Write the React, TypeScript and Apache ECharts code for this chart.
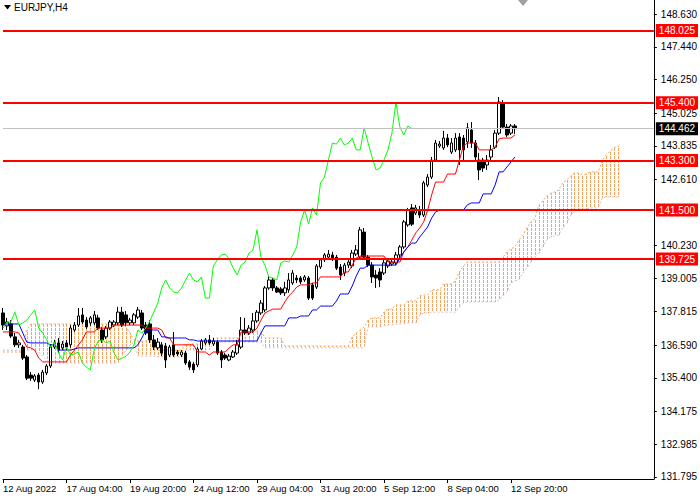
import React, { useEffect, useRef } from "react";
import * as echarts from "echarts";

const symbolTitle = "EURJPY,H4";
const dateLabels = [
  "12 Aug 2022", "17 Aug 04:00", "19 Aug 20:00", "24 Aug 12:00", "29 Aug 04:00",
  "31 Aug 20:00", "5 Sep 12:00", "8 Sep 04:00", "12 Sep 20:00",
];
const yTicks = [148.63, 147.44, 146.25, 145.025, 143.835, 142.61, 140.23, 139.005, 137.815, 136.59, 135.4, 134.175, 132.985, 131.795];
const levels = [148.025, 145.4, 143.3, 141.5, 139.725];
const lastPrice = 144.462;
const yMin = 131.722;
const yMax = 149.14;
const totalSlots = 165;
const labelStep = 16;
const chikouShift = 26;

// [open, close, low, high]
const ohlc = [
  [137.76,137.32,137.14,137.94],[137.29,137.43,137.14,137.58],[137.36,136.92,136.85,137.50],[136.89,136.60,136.52,137.03],
  [136.60,136.67,136.49,136.78],[136.52,136.12,136.05,136.60],[136.16,135.39,135.32,136.23],[135.50,135.39,135.29,135.61],
  [135.32,135.47,135.25,135.54],[135.50,135.25,134.99,135.58],[135.25,135.61,135.18,135.69],[135.58,135.83,135.50,135.90],
  [135.83,136.52,135.76,136.63],[136.52,136.67,136.45,136.78],[136.67,136.41,136.30,136.85],[136.49,136.63,136.41,136.74],
  [136.67,136.52,136.41,136.78],[136.60,137.21,136.49,137.32],[137.14,137.32,137.07,137.43],[137.32,137.65,137.25,137.94],
  [137.69,137.43,137.36,137.94],[137.50,137.25,137.18,137.61],[137.40,137.58,137.29,137.65],[137.40,137.69,137.32,137.83],
  [137.58,137.21,137.14,137.69],[137.14,136.78,136.67,137.25],[136.89,137.21,136.81,137.29],[137.21,137.43,137.14,137.50],
  [137.32,137.43,137.25,137.50],[137.40,137.79,137.32,137.98],[137.79,137.32,137.25,137.98],[137.69,137.40,137.29,137.83],
  [137.40,137.50,137.32,137.58],[137.40,137.69,137.32,137.76],[137.61,137.87,137.54,137.98],[137.76,137.21,137.14,137.87],
  [137.32,137.03,136.96,137.43],[137.36,136.78,136.67,137.50],[136.78,136.52,136.41,136.96],[136.49,136.70,136.41,136.85],
  [136.60,136.30,136.19,136.70],[136.56,136.05,135.76,136.67],[136.23,136.52,136.16,136.60],[136.60,136.23,136.16,137.07],
  [136.34,136.27,136.19,136.41],[136.23,136.34,136.16,136.41],[136.30,135.94,135.87,136.38],[135.98,135.79,135.69,136.05],
  [135.90,135.69,135.58,135.98],[135.87,136.45,135.79,136.52],[136.45,136.74,136.41,136.81],[136.67,136.78,136.60,136.85],
  [136.78,136.67,136.60,136.96],[136.63,136.74,136.56,136.85],[136.70,136.30,136.23,136.78],[136.34,136.05,135.76,136.41],
  [136.23,136.12,136.05,136.30],[136.05,136.19,136.01,136.27],[136.16,136.34,136.12,136.41],[136.30,136.60,136.23,136.78],
  [136.52,137.14,136.45,137.61],[137.14,137.03,136.96,137.58],[137.03,137.21,136.96,137.32],[137.14,137.47,137.03,137.76],
  [137.47,137.79,137.40,137.87],[137.76,138.12,137.69,138.23],[137.87,138.67,137.79,138.74],[138.67,138.96,138.60,139.10],
  [138.96,138.67,138.56,139.03],[138.67,138.52,138.49,138.74],[138.63,138.49,138.41,138.70],[138.49,138.67,138.38,138.89],
  [138.60,138.96,138.49,139.21],[138.85,139.21,138.78,139.32],[139.03,138.96,138.85,139.14],[139.03,138.89,138.81,139.10],
  [138.96,139.07,138.89,139.14],[139.03,138.30,138.23,139.10],[138.78,138.30,138.23,138.85],[138.70,139.47,138.63,139.54],
  [139.43,139.69,139.36,139.76],[139.69,139.87,139.61,139.94],[139.79,139.90,139.72,140.05],[139.87,139.72,139.65,139.98],
  [139.79,139.39,139.32,139.87],[139.43,139.14,138.96,139.54],[139.21,139.50,139.10,139.58],[139.50,139.61,139.39,139.69],
  [139.47,139.94,139.39,140.05],[139.90,140.05,139.83,140.23],[139.79,140.78,139.72,140.89],[140.70,139.79,139.72,140.85],
  [139.79,139.50,139.43,139.87],[139.50,139.07,138.85,139.61],[139.14,139.03,138.67,139.32],[139.25,138.96,138.70,139.39],
  [139.21,139.58,139.14,139.69],[139.47,139.65,139.39,139.72],[139.54,139.61,139.47,139.72],[139.58,139.87,139.50,139.98],
  [139.87,140.16,139.76,140.23],[140.16,141.07,140.09,141.14],[140.96,141.50,140.89,141.58],[141.58,140.99,140.92,141.72],
  [141.39,141.58,141.32,141.69],[141.50,141.32,141.21,141.65],[141.32,142.49,141.25,142.56],[142.41,142.70,142.34,142.81],
  [142.70,143.32,142.63,143.43],[143.32,143.94,143.25,144.05],[143.83,143.90,143.76,144.01],[143.76,144.12,143.69,144.38],
  [144.12,143.87,143.79,144.27],[143.61,143.94,143.54,144.12],[143.69,144.12,143.61,144.30],[144.16,143.69,143.14,144.30],
  [144.12,143.69,143.32,144.23],[143.98,144.49,143.76,144.67],[144.41,143.94,143.76,144.70],[143.94,143.43,143.32,144.05],
  [143.32,142.96,142.59,143.58],[143.32,143.03,142.89,143.40],[143.14,143.32,142.96,143.50],[143.43,143.69,143.32,143.87],
  [143.79,144.30,143.72,144.41],[144.30,145.43,144.23,145.61],[145.39,144.52,144.45,145.50],[144.52,144.23,144.16,144.63],
  [144.30,144.56,144.23,144.63],[144.56,144.462,144.27,144.63],
];

const tenkan = [
  137.07,137.07,137.07,137.07,137.03,136.78,136.52,136.49,136.41,136.12,
  135.98,135.98,135.98,135.98,135.98,135.98,135.98,136.23,136.41,136.60,
  136.78,137.07,137.07,137.07,137.21,137.21,137.21,137.21,137.32,137.32,
  137.32,137.32,137.32,137.32,137.32,137.32,137.21,137.21,137.21,137.21,
  137.14,136.85,136.85,136.60,136.60,136.60,136.60,136.60,136.60,136.34,
  136.34,136.34,136.23,136.34,136.34,136.34,136.34,136.49,136.60,136.60,
  137.07,137.07,137.07,137.07,137.21,137.50,137.76,137.83,137.90,137.90,
  137.90,138.16,138.38,138.52,138.70,138.78,138.78,138.78,138.85,138.85,
  139.07,139.07,139.07,139.07,139.07,139.07,139.25,139.25,139.50,139.76,
  139.83,139.83,139.83,139.83,139.83,139.83,139.83,139.61,139.61,139.61,
  139.61,139.98,140.16,140.41,140.67,140.85,141.07,141.50,142.05,142.52,
  142.52,142.52,142.81,142.81,142.81,143.32,143.83,143.94,143.94,143.94,
  143.69,143.69,143.69,143.69,143.79,144.09,144.12,144.12,144.12,144.23,
];

const kijun = [
  137.36,137.36,137.36,137.36,137.36,137.03,136.70,136.67,136.67,136.67,
  136.67,136.67,136.60,136.60,136.41,136.41,136.41,136.41,136.45,136.49,
  136.49,136.49,136.49,136.49,136.49,136.49,136.49,136.49,136.49,136.49,
  136.49,136.49,136.49,136.49,136.60,136.85,137.14,137.14,137.14,137.14,
  136.89,136.89,136.85,136.85,136.85,136.85,136.85,136.78,136.78,136.74,
  136.74,136.74,136.74,136.74,136.74,136.74,136.74,136.74,136.74,136.74,
  136.74,136.74,136.74,136.74,136.74,137.03,137.29,137.29,137.29,137.29,
  137.29,137.29,137.58,137.58,137.58,137.65,137.65,137.65,137.87,137.87,
  138.01,138.01,138.01,138.01,138.19,138.45,138.45,138.45,138.74,139.10,
  139.39,139.39,139.50,139.50,139.50,139.50,139.50,139.50,139.50,139.50,
  139.76,139.98,140.16,140.30,140.30,140.52,140.70,140.89,141.21,141.43,
  141.50,141.50,141.50,141.50,141.50,141.50,141.50,141.69,141.76,141.76,
  141.76,142.09,142.09,142.09,142.41,142.89,142.89,143.07,143.25,143.43,
];

const spanA = [
  136.34,136.34,136.34,136.34,136.34,136.34,137.14,137.36,137.36,137.36,
  137.36,137.36,137.36,137.36,137.36,137.36,137.36,137.36,137.36,137.36,
  137.36,137.36,137.36,137.36,137.36,137.36,137.36,137.36,137.36,137.36,
  137.36,137.25,137.03,136.78,136.74,136.74,136.74,136.74,136.74,136.41,
  136.41,136.41,136.41,136.41,136.41,136.41,136.63,136.63,136.63,136.63,
  136.63,136.63,136.63,136.85,136.85,136.85,136.85,136.85,136.85,136.85,
  136.85,136.85,137.10,137.10,137.10,137.10,136.85,136.85,136.85,136.85,
  136.85,136.56,136.56,136.56,136.56,136.56,136.56,136.56,136.56,136.56,
  136.56,136.56,136.56,136.56,136.56,136.56,136.56,136.56,136.89,137.03,
  137.14,137.25,137.50,137.58,137.58,137.58,137.79,137.90,137.90,138.05,
  138.05,138.05,138.20,138.20,138.20,138.38,138.41,138.41,138.60,138.60,
  138.60,138.81,138.81,138.81,138.93,139.25,139.47,139.61,139.61,139.61,
  139.61,139.61,139.61,139.61,139.61,139.61,139.79,139.98,140.09,140.16,
  140.41,140.59,140.85,141.07,141.18,141.69,141.83,142.01,142.12,142.16,
  142.23,142.49,142.59,142.74,142.85,142.85,142.78,142.81,142.89,142.89,
  142.89,143.32,143.50,143.65,143.76,143.83,
];

const spanB = [
  136.41,136.41,136.41,136.41,136.41,136.41,136.41,136.41,136.41,136.34,
  136.19,136.05,135.94,135.94,135.94,135.94,135.94,135.94,135.94,135.94,
  135.94,135.94,135.94,135.94,135.94,135.94,135.94,135.94,135.94,135.94,
  136.19,136.41,136.60,136.70,136.19,136.19,136.19,136.19,136.19,136.16,
  136.16,136.16,136.16,136.16,136.16,136.16,136.41,136.41,136.41,136.41,
  136.41,136.41,136.41,136.70,136.70,136.70,136.70,136.70,136.70,136.70,
  136.70,136.70,136.70,136.70,136.70,136.70,136.49,136.49,136.49,136.49,
  136.49,136.49,136.49,136.49,136.49,136.49,136.49,136.49,136.49,136.49,
  136.49,136.49,136.49,136.49,136.49,136.49,136.49,136.49,136.49,136.49,
  136.49,136.49,137.25,137.25,137.25,137.25,137.29,137.32,137.32,137.36,
  137.36,137.36,137.40,137.40,137.40,137.69,137.76,137.76,137.79,137.79,
  137.79,137.79,137.79,137.79,137.79,137.98,138.12,138.16,138.16,138.16,
  138.16,138.16,138.16,138.16,138.16,138.23,138.38,138.52,138.85,138.93,
  138.96,139.21,139.39,139.61,139.79,139.94,140.16,140.41,140.52,140.56,
  140.59,140.85,140.99,141.32,141.43,141.54,141.54,141.54,141.58,141.58,
  141.58,141.94,141.98,141.98,141.98,141.98,
];

const FONT = "Liberation Sans, Arial, sans-serif";
const KUMO_UP = "rgb(244,164,96)";
const KUMO_DOWN = "rgb(216,191,216)";

export default function App() {
  const ref = useRef<HTMLDivElement>(null);

  useEffect(() => {
    if (!ref.current) return;
    const chart = echarts.init(ref.current, null, { renderer: "svg" });
    const categories = Array.from({ length: totalSlots }, (_, i) => String(i));
    const chikou = categories.map((_, i) =>
      i + chikouShift < ohlc.length ? ohlc[i + chikouShift][1] : null
    );
    const cloud = spanA.map((a, i) => [i, a, spanB[i]]);
    const isLabelIdx = (idx: number) => idx % labelStep === 0 && idx / labelStep < dateLabels.length;

    chart.setOption({
      animation: false,
      backgroundColor: "#ffffff",
      grid: { left: 0, right: 45, top: 0, bottom: 21, containLabel: false },
      xAxis: {
        type: "category",
        data: categories,
        boundaryGap: false,
        axisLine: { show: true, lineStyle: { color: "#000", width: 1 } },
        axisTick: { show: true, interval: (idx: number) => isLabelIdx(idx), length: 4, lineStyle: { color: "#000" } },
        axisLabel: {
          show: true,
          interval: (idx: number) => isLabelIdx(idx),
          formatter: (_v: string, idx: number) => dateLabels[idx / labelStep] ?? "",
          align: "left",
          margin: 4,
          color: "#000",
          fontSize: 9.5,
          fontFamily: FONT,
        },
        splitLine: { show: false },
      },
      yAxis: {
        type: "value",
        position: "right",
        min: yMin,
        max: yMax,
        scale: true,
        axisLine: { show: true, lineStyle: { color: "#000", width: 1 } },
        axisTick: { show: true, customValues: yTicks, length: 3, lineStyle: { color: "#000" } },
        axisLabel: {
          show: true,
          customValues: yTicks,
          formatter: (v: number) => v.toFixed(3),
          margin: 7,
          color: "#000",
          fontSize: 10,
          fontFamily: FONT,
        },
        splitLine: { show: false },
      },
      series: [
        {
          type: "custom",
          name: "kumo",
          z: 1,
          silent: true,
          color: KUMO_UP,
          itemStyle: { color: KUMO_UP },
          progressive: 0,
          encode: { x: 0, y: [1, 2] },
          data: cloud,
          renderItem: (params: any, api: any) => {
            const idx = params.dataIndex;
            const a = spanA[idx];
            const b = spanB[idx];
            const pa = api.coord([idx, a]);
            const pb = api.coord([idx, b]);
            const x = Math.round(pa[0]);
            const top = Math.round(Math.min(pa[1], pb[1]));
            const bottom = Math.round(Math.max(pa[1], pb[1]));
            const col = a >= b ? KUMO_UP : KUMO_DOWN;
            const children: any[] = [];
            let y = top - (top % 4);
            for (; y < bottom; y += 4) {
              const y0 = Math.max(y, top);
              const y1 = Math.min(y + 3, bottom);
              if (y1 > y0) {
                children.push({
                  type: "rect",
                  shape: { x: x, y: y0, width: 1, height: y1 - y0 },
                  style: { fill: col, stroke: null, opacity: 1 },
                });
              }
            }
            return { type: "group", children };
          },
        },
        {
          type: "line",
          name: "spanA",
          z: 2,
          data: spanA,
          showSymbol: false,
          silent: true,
          lineStyle: { color: KUMO_UP, width: 1, type: [2, 2] },
        },
        {
          type: "line",
          name: "spanB",
          z: 2,
          data: spanB,
          showSymbol: false,
          silent: true,
          lineStyle: { color: KUMO_DOWN, width: 1, type: [2, 2] },
        },
        {
          type: "candlestick",
          name: "EURJPY",
          z: 3,
          data: ohlc,
          barWidth: 3,
          itemStyle: { color: "#ffffff", color0: "#000000", borderColor: "#000000", borderColor0: "#000000", borderWidth: 1 },
          markLine: {
            silent: true,
            symbol: ["none", "none"],
            lineStyle: { color: "#C0C0C0", width: 1, type: "solid" },
            data: [
              {
                yAxis: lastPrice,
                label: {
                  show: true,
                  position: "end",
                  distance: 2,
                  formatter: lastPrice.toFixed(3),
                  backgroundColor: "#000",
                  color: "#fff",
                  padding: [2, 3, 1, 3],
                  fontSize: 10,
                  fontFamily: FONT,
                },
              },
            ],
          },
        },
        {
          type: "line",
          name: "tenkan",
          z: 4,
          data: tenkan,
          showSymbol: false,
          silent: true,
          lineStyle: { color: "#FF0000", width: 1 },
        },
        {
          type: "line",
          name: "kijun",
          z: 4,
          data: kijun,
          showSymbol: false,
          silent: true,
          lineStyle: { color: "#0000FF", width: 1 },
        },
        {
          type: "line",
          name: "chikou",
          z: 4,
          data: chikou,
          showSymbol: false,
          silent: true,
          lineStyle: { color: "#00FF00", width: 1 },
        },
        {
          type: "line",
          name: "levels",
          z: 6,
          data: [],
          markLine: {
            silent: true,
            symbol: ["none", "none"],
            lineStyle: { color: "#FF0000", width: 2, type: "solid" },
            data: levels.map((lv) => ({
              yAxis: lv,
              label: {
                show: true,
                position: "end",
                distance: 2,
                formatter: lv.toFixed(3),
                backgroundColor: "#FF0000",
                color: "#fff",
                padding: [2, 3, 1, 3],
                fontSize: 10,
                fontFamily: FONT,
              },
            })),
          },
        },
      ],
      graphic: [
        { type: "polygon", shape: { points: [[4, 5], [11, 5], [7.5, 9.5]] }, style: { fill: "#000" } },
        { type: "text", left: 14, top: 2, style: { text: symbolTitle, fill: "#000", fontSize: 10, fontFamily: FONT } },
        { type: "polygon", shape: { points: [[518, 0], [528, 0], [523, 6]] }, style: { fill: "#A0A0A0" } },
      ],
    });

    return () => chart.dispose();
  }, []);

  return (
    <div
      ref={ref}
      style={{ position: "fixed", left: 0, top: 0, width: 700, height: 500, background: "#fff" }}
    />
  );
}
